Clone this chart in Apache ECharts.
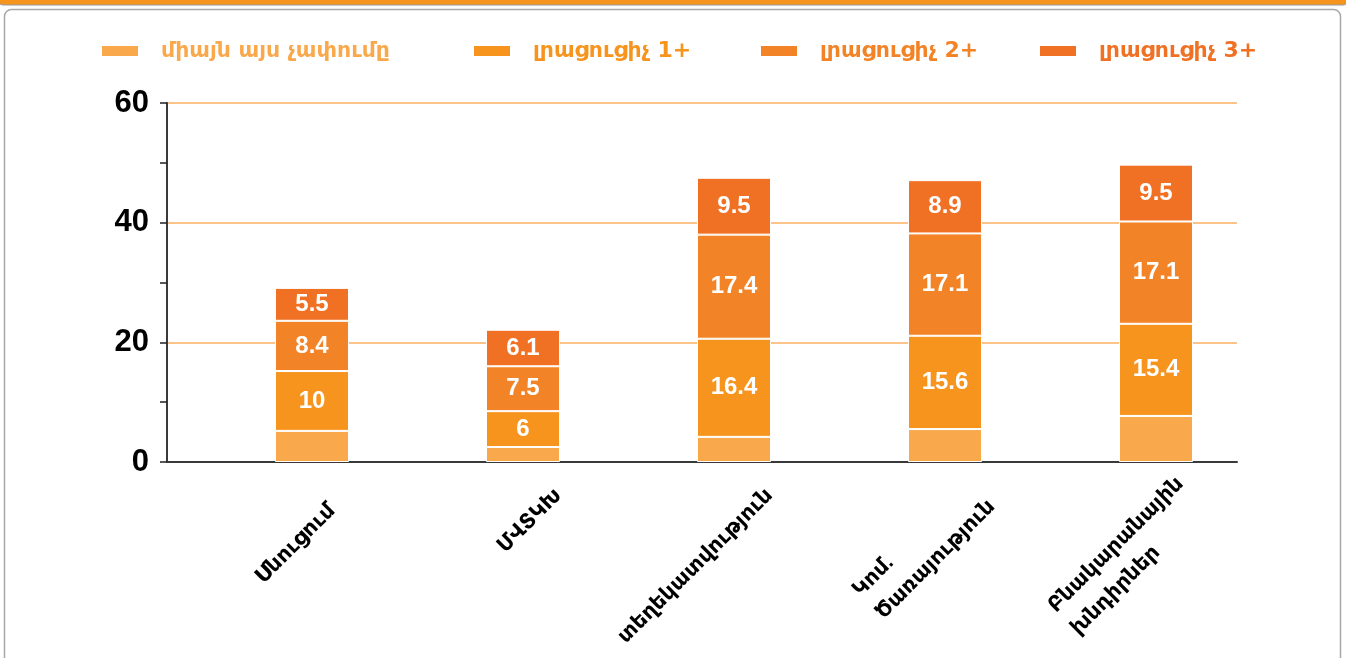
<!DOCTYPE html>
<html>
<head>
<meta charset="utf-8">
<script src="https://cdn.jsdelivr.net/npm/echarts@6/dist/echarts.min.js"></script>
<style>
  html, body { margin: 0; padding: 0; background: #fff; }
  #chart { width: 1346px; height: 658px; }
</style>
</head>
<body>
<div id="chart"></div>
<script>
// categories and values
const categories = ['Սնուցում', 'ՄՎՏԿԽ', 'տեղեկատվություն', 'Կոմ.\nԾառայություն', 'Բնակարանային\nխնդիրներ']
const seriesNames = ['միայն այս չափումը', 'լրացուցիչ 1+', 'լրացուցիչ 2+', 'լրացուցիչ 3+']
const onlyThis = [5.2, 2.5, 4.2, 5.5, 7.7]
const extra1 = [10, 6, 16.4, 15.6, 15.4]
const extra2 = [8.4, 7.5, 17.4, 17.1, 17.1]
const extra3 = [5.5, 6.1, 9.5, 8.9, 9.5]
const yTicks = [0, 20, 40, 60]

const colors = ['#F9A84B', '#F7941E', '#F28427', '#F07124']
const font = "'Liberation Sans', 'DejaVu Sans', Arial, sans-serif"

const chart = echarts.init(document.getElementById('chart'), null, { renderer: 'canvas' })

const gridTop = 103
const gridBottom = 196

function legendAt(i, left) {
  return {
    data: [seriesNames[i]],
    left: left,
    top: 40,
    padding: 0,
    itemWidth: 38,
    itemHeight: 12,
    icon: 'rect',
    itemGap: 20,
    selectedMode: false,
    textStyle: {
      color: colors[i],
      fontSize: 22,
      fontWeight: 'bold',
      fontFamily: "'DejaVu Sans', sans-serif",
      padding: [0, 0, 0, 17]
    }
  }
}

function barSeries(i, data, showLabel) {
  return {
    name: seriesNames[i],
    type: 'bar',
    stack: 'total',
    xAxisIndex: 1,
    yAxisIndex: 1,
    barWidth: 74,
    data: data,
    itemStyle: { color: colors[i], borderColor: '#fff', borderWidth: 1 },
    label: {
      show: showLabel,
      position: 'inside',
      color: '#fff',
      fontSize: 24,
      fontWeight: 'bold',
      fontFamily: font
    }
  }
}

// the first label sits a little further left in the picture
const labelData = categories.map((c, i) => i === 0 ? { value: c, textStyle: { padding: [0, 22, 0, 0] } } : c)

chart.setOption({
  animation: false,
  legend: [legendAt(0, 100), legendAt(1, 472), legendAt(2, 759), legendAt(3, 1038)],
  graphic: [
    {
      type: 'rect',
      shape: { x: -2, y: -10, width: 1350, height: 15, r: 5 },
      style: { fill: '#F7941E', stroke: '#9a9a9a', lineWidth: 1 }
    },
    {
      type: 'rect',
      shape: { x: 4.5, y: 9.5, width: 1336, height: 680, r: 7 },
      style: { fill: 'none', stroke: '#a8a8a8', lineWidth: 1.5 }
    }
  ],
  grid: [
    { left: 167, right: 109, top: gridTop, bottom: gridBottom },
    { left: 206.5, right: 84.5, top: gridTop, bottom: gridBottom },
    { left: 242, right: 49, top: gridTop, bottom: gridBottom }
  ],
  xAxis: [
    {
      gridIndex: 0,
      type: 'value',
      min: 0,
      max: 1,
      axisLine: { show: true, onZero: false, lineStyle: { color: '#3a3a3a', width: 2 } },
      axisTick: { show: false },
      axisLabel: { show: false },
      splitLine: { show: false }
    },
    {
      gridIndex: 1,
      type: 'category',
      data: categories,
      axisLine: { show: false },
      axisTick: { show: false },
      axisLabel: { show: false }
    },
    {
      gridIndex: 2,
      type: 'category',
      data: labelData,
      axisLine: { show: false },
      axisTick: { show: false },
      axisLabel: {
        interval: 0,
        rotate: 45,
        margin: 30,
        formatter: v => v.split('\n').map(s => '{a|' + s + '}').join('\n'),
        rich: {
          a: {
            align: 'left',
            color: '#000',
            fontSize: 21,
            fontWeight: 'bold',
            fontFamily: font,
            lineHeight: 32
          }
        }
      }
    }
  ],
  yAxis: [
    {
      gridIndex: 0,
      type: 'value',
      min: yTicks[0],
      max: yTicks[yTicks.length - 1],
      interval: 20,
      axisLine: { show: true, lineStyle: { color: '#3a3a3a', width: 2 } },
      axisTick: { show: true, length: 7, lineStyle: { color: '#222', width: 1.5 } },
      minorTick: { show: true, splitNumber: 2, length: 7, lineStyle: { color: '#222', width: 1.5 } },
      axisLabel: {
        margin: 18,
        color: '#000',
        fontSize: 31,
        fontWeight: 'bold',
        fontFamily: font
      },
      splitLine: { show: true, lineStyle: { color: '#FBB065', width: 1.5 } }
    },
    {
      gridIndex: 1,
      type: 'value',
      min: 0,
      max: 60,
      show: false
    },
    {
      gridIndex: 2,
      type: 'value',
      min: 0,
      max: 60,
      show: false
    }
  ],
  series: [
    barSeries(0, onlyThis, false),
    barSeries(1, extra1, true),
    barSeries(2, extra2, true),
    barSeries(3, extra3, true)
  ]
})
</script>
</body>
</html>
